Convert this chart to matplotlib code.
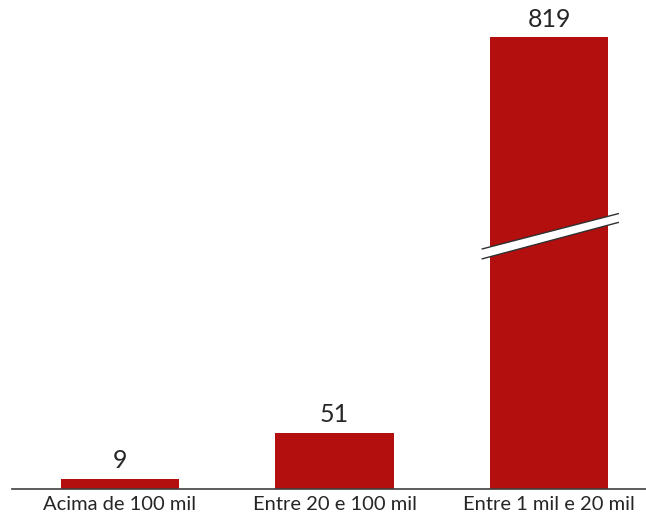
import matplotlib.pyplot as plt

categories = ["Acima de 100 mil", "Entre 20 e 100 mil", "Entre 1 mil e 20 mil"]
values = [9, 51, 819]

# the big bar is drawn cut (broken axis look), this is the height shown
cap = 410

plt.rcParams["font.family"] = ["Lato", "DejaVu Sans"]

fig = plt.figure(figsize=(6.46, 5.18), dpi=100)
ax = fig.add_axes([0.019, 0.056, 0.981, 0.944])

shown = [min(v, cap) for v in values]
x = list(range(len(categories)))
bars = ax.bar(x, shown, width=0.55, color="#B30F0F")

for xi, v, h in zip(x, values, shown):
    ax.annotate(str(v), (xi, h), xytext=(0, 5), textcoords="offset points",
                ha="center", va="bottom", fontsize=18, color="#262626")

# break mark on the cut bar: white band with dark edges, open ends
i = values.index(max(values))
bx = [x[i] - 0.312, x[i] + 0.321]
lo = [209, 242]
hi = [218, 250]
ax.fill([bx[0], bx[1], bx[1], bx[0]], [lo[0], lo[1], hi[1], hi[0]],
        color="white", lw=0, zorder=3)
ax.plot(bx, lo, color="#303030", lw=1, zorder=4)
ax.plot(bx, hi, color="#303030", lw=1, zorder=4)

ax.set_xlim(-0.5, 2.45)
ax.set_ylim(0, 444)
ax.set_xticks(x)
ax.set_xticklabels(categories, fontsize=14.5, color="#262626")
ax.tick_params(axis="x", length=0, pad=5)
ax.set_yticks([])
for s in ["top", "right", "left"]:
    ax.spines[s].set_visible(False)
ax.spines["bottom"].set_color("#404040")
ax.spines["bottom"].set_linewidth(1.2)

fig.savefig("out.png", dpi=100)
